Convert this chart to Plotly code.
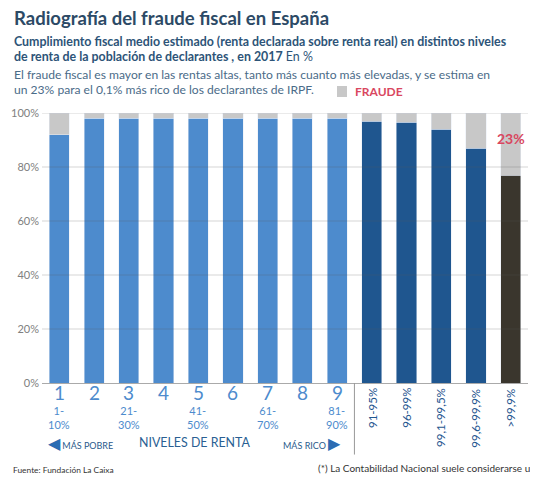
import plotly.graph_objects as go

# datos
niveles = ["1", "2", "3", "4", "5", "6", "7", "8", "9",
           "91-95%", "96-99%", "99,1-99,5%", "99,6-99,9%", ">99,9%"]
cumplimiento = [92, 98, 98, 98, 98, 98, 98, 98, 98, 97, 96.5, 94, 87, 77]
fraude = [100 - v for v in cumplimiento]
tramos = {"1": "1-<br>10%", "3": "21-<br>30%", "5": "41-<br>50%",
          "7": "61-<br>70%", "9": "81-<br>90%"}
yticks = [0, 20, 40, 60, 80, 100]

AZUL_CLARO = "#4d8bcd"
AZUL_OSCURO = "#1f568f"
NEGRO = "#3a362d"
GRIS = "#c8c8c8"
ROJO = "#d9475f"
FONT = "Lato"

colores = [AZUL_CLARO] * 9 + [AZUL_OSCURO] * 4 + [NEGRO]

fig = go.Figure()
fig.add_trace(go.Bar(x=niveles, y=cumplimiento, marker_color=colores,
                     name="Cumplimiento"))
fig.add_trace(go.Bar(x=niveles, y=fraude, marker_color=GRIS, name="FRAUDE"))

# la pagina deja 8px de margen en el body, asi que todo se mide restando 8
OFF = 8
W, H = 538 - OFF, 489 - OFF
L, R, T, B = 42 - OFF, 528 - OFF, 113 - OFF, 383 - OFF


def px(x, y):
    # pixel de la imagen -> coordenadas de papel
    return (x - OFF - L) / (R - L), (B - (y - OFF)) / (B - T)


anns = []
# titulos
anns.append(dict(text="<b>Radiografía del fraude fiscal en España</b>", x=12, y=18,
                 font=dict(size=18.5, color="#2c4a66")))
anns.append(dict(text="<b>Cumplimiento fiscal medio estimado (renta declarada sobre renta real) en distintos niveles</b>",
                 x=12, y=41, font=dict(size=12.4, color="#2d5478")))
anns.append(dict(text="<b>de renta de la población de declarantes , en 2017</b> En %",
                 x=12, y=57, font=dict(size=12.4, color="#2d5478")))
anns.append(dict(text="El fraude fiscal es mayor en las rentas altas, tanto más cuanto más elevadas, y se estima en",
                 x=12, y=75, font=dict(size=12.1, color="#4a6b88")))
anns.append(dict(text="un 23% para el 0,1% más rico de los declarantes de IRPF.",
                 x=12, y=90, font=dict(size=12.1, color="#4a6b88")))
anns.append(dict(text="<b>FRAUDE</b>", x=353, y=91, font=dict(size=12, color=ROJO)))
# pie
anns.append(dict(text="Fuente: Fundación La Caixa", x=11, y=470,
                 font=dict(size=8.4, color="#333333")))
anns.append(dict(text="(*) La Contabilidad Nacional suele considerarse un", x=316, y=468,
                 font=dict(size=10, color="#333333")))
# niveles de renta
anns.append(dict(text="<span style='color:#2b6cb3;font-size:16px'>◀</span> MÁS POBRE", x=46, y=442,
                 font=dict(size=9, color="#2a5a8c")))
anns.append(dict(text="NIVELES DE RENTA", x=137, y=442,
                 font=dict(size=12.4, color="#2a5f93")))
anns.append(dict(text="MÁS RICO <span style='color:#2b6cb3;font-size:16px'>▶</span>", x=281, y=442,
                 font=dict(size=9, color="#2a5a8c")))

layout_anns = []
for a in anns:
    ax, ay = px(a["x"], a["y"])
    layout_anns.append(dict(text=a["text"], xref="paper", yref="paper", x=ax, y=ay,
                            xanchor="left", yanchor="middle", showarrow=False,
                            font=dict(family=FONT, **a["font"])))

# etiquetas de los tramos
for i, n in enumerate(niveles):
    if i < 9:
        layout_anns.append(dict(text=n, x=i, xref="x", yref="paper", y=0.015,
                                yanchor="top", showarrow=False,
                                font=dict(family=FONT, size=19, color=AZUL_CLARO)))
        if n in tramos:
            layout_anns.append(dict(text=tramos[n], x=i, xref="x", yref="paper", y=-0.07,
                                    yanchor="top", showarrow=False,
                                    font=dict(family=FONT, size=11, color=AZUL_CLARO)))
    else:
        # texto girado, se lee de abajo arriba
        layout_anns.append(dict(text=n, x=i, xref="x", yref="paper", y=-0.012,
                                yanchor="top", showarrow=False, textangle=-90,
                                font=dict(family=FONT, size=11.5, color=AZUL_OSCURO)))

# 23%
layout_anns.append(dict(text="<b>%d%%</b>" % round(fraude[-1]), x=len(niveles) - 1, y=90.5,
                        xref="x", yref="y", showarrow=False,
                        font=dict(family=FONT, size=14, color=ROJO)))

shapes = []
for t in yticks[1:]:
    shapes.append(dict(type="line", xref="paper", yref="y", x0=0, x1=1, y0=t, y1=t,
                       line=dict(color="rgba(90,90,90,0.25)", width=1), layer="above"))
shapes.append(dict(type="line", xref="x", yref="paper", x0=8.5, x1=8.5, y0=0, y1=-0.265,
                   line=dict(color="#999999", width=1)))
# cuadro de la leyenda
lx0, ly0 = px(337, 97)
lx1, ly1 = px(347, 86)
shapes.append(dict(type="rect", xref="paper", yref="paper", x0=lx0, x1=lx1, y0=ly0, y1=ly1,
                   fillcolor=GRIS, line=dict(width=0)))

fig.update_layout(
    barmode="stack",
    bargap=0.42,
    width=W, height=H,
    margin=dict(l=L, r=W - R, t=T, b=H - B, autoexpand=False),
    paper_bgcolor="white", plot_bgcolor="white",
    font=dict(family=FONT),
    showlegend=False,
    annotations=layout_anns,
    shapes=shapes,
    xaxis=dict(type="category", showticklabels=False, showgrid=False,
               showline=True, linecolor="#aaaaaa", linewidth=1, ticks="",
               range=[-0.5, 13.5], automargin=False),
    yaxis=dict(range=[0, 100], tickvals=yticks, ticktext=["%d%%" % t for t in yticks],
               showgrid=False, zeroline=False, ticks="", automargin=False,
               ticklabelstandoff=2,
               tickfont=dict(family=FONT, size=11, color="#808080")),
)

fig.write_html("out.html")
